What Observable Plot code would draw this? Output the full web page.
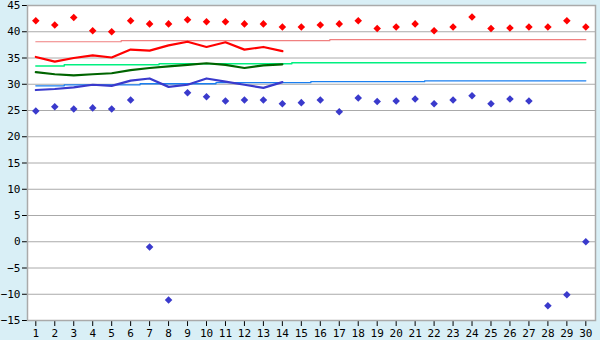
<!DOCTYPE html>
<html>
<head>
<meta charset="utf-8">
<script src="https://cdn.jsdelivr.net/npm/d3@7"></script>
<script src="https://cdn.jsdelivr.net/npm/@observablehq/plot@0.6"></script>
<style>
  html, body { margin: 0; padding: 0; background: #d9eff6; }
</style>
</head>
<body>
<div id="chart"></div>
<script>
const days = d3.range(1, 31);
const yTicks = d3.range(-15, 46, 5);

// Daily maximum (red diamonds)
const maxT = [42.1, 41.3, 42.7, 40.2, 40.0, 42.1, 41.5, 41.5, 42.3, 41.9,
              41.9, 41.5, 41.5, 40.9, 40.9, 41.3, 41.5, 42.1, 40.6, 40.9,
              41.5, 40.2, 40.9, 42.8, 40.6, 40.7, 40.9, 40.9, 42.1, 40.9];
// Daily minimum (blue diamonds)
const minT = [24.9, 25.7, 25.3, 25.5, 25.3, 27.0, -1.0, -11.1, 28.4, 27.6,
              26.8, 27.0, 27.0, 26.3, 26.5, 27.0, 24.75, 27.4, 26.7, 26.8,
              27.2, 26.3, 27.0, 27.8, 26.3, 27.2, 26.8, -12.2, -10.1, 0.0];

// Running lines, days 1-14
const lineDays = d3.range(1, 15);
const avgMax  = [35.2, 34.3, 35.0, 35.5, 35.1, 36.6, 36.4, 37.4, 38.1, 37.1, 38.0, 36.6, 37.1, 36.3];
const avgMean = [32.3, 31.9, 31.7, 31.9, 32.1, 32.7, 33.1, 33.4, 33.7, 34.0, 33.7, 33.1, 33.6, 33.8];
const avgMin  = [28.9, 29.1, 29.4, 29.9, 29.7, 30.7, 31.1, 29.5, 29.9, 31.1, 30.5, 29.9, 29.3, 30.4];

// Normal values per day (stepped thin lines)
const normMax = days.map(d => d <= 5 ? 38.1 : d <= 16 ? 38.3 : 38.5);
const normMean = days.map(d => d <= 2 ? 33.5 : d <= 7 ? 33.7 : d <= 14 ? 33.9 : 34.1);
const normMin = days.map(d => d <= 2 ? 29.7 : d <= 6 ? 29.9 : d <= 10 ? 30.1 : d <= 15 ? 30.3 : d <= 21 ? 30.5 : 30.65);

const daily = days.map((d, i) => ({day: d, max: maxT[i], min: minT[i], nMax: normMax[i], nMean: normMean[i], nMin: normMin[i]}));
const running = lineDays.map((d, i) => ({day: d, max: avgMax[i], mean: avgMean[i], min: avgMin[i]}));

const chart = Plot.plot({
  width: 600,
  height: 340,
  marginLeft: 27,
  marginRight: 5,
  marginTop: 5,
  marginBottom: 20,
  style: {background: "#d9eff6", fontFamily: "DejaVu Sans Mono", fontSize: "11px", color: "black"},
  x: {domain: [0.562, 30.51]},
  y: {domain: [-15, 45]},
  marks: [
    Plot.frame({fill: "white", stroke: "none"}),
    Plot.ruleY(yTicks, {stroke: "#aaaaaa", strokeWidth: 1}),
    Plot.line(daily, {x: "day", y: "nMax", curve: "step", stroke: "#f08080", strokeWidth: 1.2}),
    Plot.line(daily, {x: "day", y: "nMean", curve: "step", stroke: "#00f080", strokeWidth: 1.5}),
    Plot.line(daily, {x: "day", y: "nMin", curve: "step", stroke: "#1a7ff0", strokeWidth: 1.3}),
    Plot.line(running, {x: "day", y: "max", stroke: "#ff0000", strokeWidth: 2.2}),
    Plot.line(running, {x: "day", y: "mean", stroke: "#006400", strokeWidth: 2.2}),
    Plot.line(running, {x: "day", y: "min", stroke: "#3a3acc", strokeWidth: 2.2}),
    Plot.dot(daily, {x: "day", y: "max", symbol: "diamond2", r: 3.4, fill: "#ff0000", stroke: "none"}),
    Plot.dot(daily, {x: "day", y: "min", symbol: "diamond2", r: 3.4, fill: "#3a3acc", stroke: "none"}),
    Plot.axisY({ticks: yTicks, tickSize: 5, tickPadding: 2, label: null, stroke: "black"}),
    Plot.axisX({ticks: days, tickSize: 6, tickPadding: 3, label: null, stroke: "black"}),
    Plot.frame({stroke: "#aaaaaa", strokeWidth: 1.5})
  ]
});
document.getElementById("chart").appendChild(chart);
</script>
</body>
</html>
